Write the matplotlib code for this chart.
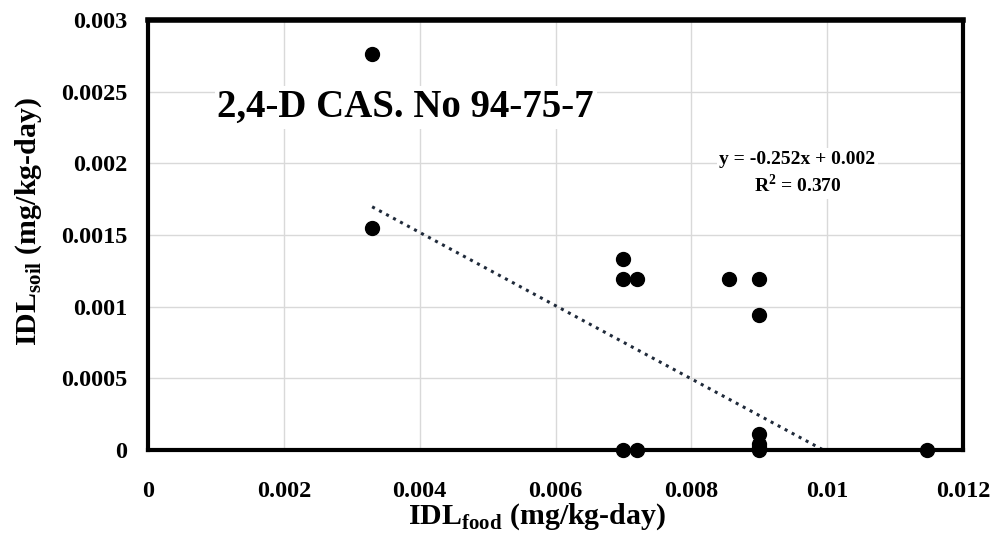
import numpy as np
import matplotlib
matplotlib.use("Agg")
import matplotlib.pyplot as plt

plt.rcParams['font.family'] = ['Liberation Serif', 'DejaVu Serif']
plt.rcParams['font.weight'] = 'bold'
plt.rcParams['mathtext.fontset'] = 'custom'
plt.rcParams['mathtext.rm'] = 'Liberation Serif:bold'
plt.rcParams['mathtext.bf'] = 'Liberation Serif:bold'

### DATA ###
idl_food = [0.0033, 0.0033, 0.0070, 0.0070, 0.0070, 0.0072, 0.0072,
            0.00855, 0.0090, 0.0090, 0.0090, 0.0090, 0.0090, 0.0090, 0.01147]
idl_soil = [0.00276, 0.00155, 0.00133, 0.00119, 0.0, 0.00119, 0.0,
            0.00119, 0.00119, 0.00094, 0.00011, 0.00004, 0.00002, 0.0, 0.0]

trend_slope = -0.2555
trend_icpt = 0.00254
eq_text = "y = -0.252x + 0.002\nR$^2$ = 0.370"
title_text = "2,4-D CAS. No 94-75-7"

xticks = [0, 0.002, 0.004, 0.006, 0.008, 0.01, 0.012]
xlabels = ["0", "0.002", "0.004", "0.006", "0.008", "0.01", "0.012"]
yticks = [0, 0.0005, 0.001, 0.0015, 0.002, 0.0025, 0.003]
ylabels = ["0", "0.0005", "0.001", "0.0015", "0.002", "0.0025", "0.003"]

### PLOT ###
fig = plt.figure(figsize=(9.95, 5.33), dpi=100)
ax = fig.add_axes([0.1487, 0.1557, 0.8193, 0.8068])

ax.scatter(idl_food, idl_soil, s=100, color='black', zorder=3, clip_on=False)

# trendline over data range, clipped by the axis floor
tx = np.array([min(idl_food), max(idl_food)])
ax.plot(tx, trend_slope * tx + trend_icpt, linestyle=(0, (1, 1.6)), color='#1f2a3a',
        linewidth=2.2, zorder=2)

ax.set_xlim(0, 0.012)
ax.set_ylim(0, 0.003)
ax.set_xticks(xticks)
ax.set_xticklabels(xlabels)
ax.set_yticks(yticks)
ax.set_yticklabels(ylabels)
ax.tick_params(axis='both', length=0, labelsize=17.5)
ax.tick_params(axis='x', pad=22)
ax.tick_params(axis='y', pad=15)
ax.grid(True, color='#d9d9d9', linewidth=1)
ax.set_axisbelow(True)

for sp in ax.spines.values():
    sp.set_color('black')
    sp.set_linewidth(3)
ax.spines['top'].set_linewidth(4)
ax.axhline(0, color='#808080', linewidth=1, zorder=2.5)

ax.set_xlabel(r"IDL$_{\mathregular{food}}$ (mg/kg-day)", fontsize=21.5, fontweight='bold')
ax.set_ylabel(r"IDL$_{\mathregular{soil}}$ (mg/kg-day)", fontsize=21.5, fontweight='bold')
ax.xaxis.set_label_coords(0.477, -0.12)
ax.yaxis.set_label_coords(-0.128, 0.53)

ax.text(0.00102, 0.00239, title_text, fontsize=28, fontweight='bold', va='center', ha='left',
        bbox=dict(facecolor='white', edgecolor='none', pad=2))
ax.text(0.00956, 0.00193, eq_text, fontsize=14, fontweight='bold', ha='center', va='center',
        linespacing=1.3, bbox=dict(facecolor='white', edgecolor='none', pad=2))

plt.savefig("out.png", dpi=100)
